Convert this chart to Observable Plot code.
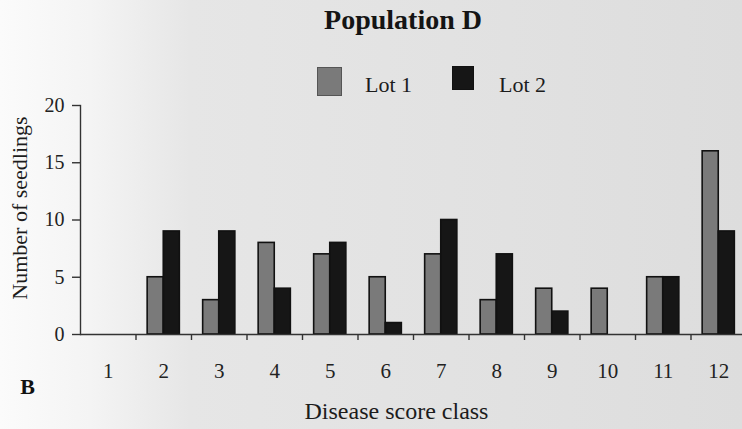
<!DOCTYPE html>
<html>
<head>
<meta charset="utf-8">
<script src="https://cdn.jsdelivr.net/npm/d3@7"></script>
<script src="https://cdn.jsdelivr.net/npm/@observablehq/plot@0.6"></script>
<style>
  html, body { margin: 0; padding: 0; }
  body {
    width: 742px; height: 429px; overflow: hidden; position: relative;
    background: linear-gradient(to right, #fbfbfb 0px, #f4f4f4 90px, #e6e6e6 190px, #e2e2e2 450px, #dddddd 742px);
    font-family: "Liberation Serif", "Times New Roman", serif; color: #1c1c1c;
  }
  #head { position: relative; height: 95px; }
  .title { position: absolute; left: 403px; top: 6px; transform: translateX(-50%);
    font-size: 28px; font-weight: bold; line-height: 1; white-space: nowrap; color: #141414; }
  .sw { position: absolute; box-sizing: border-box; }
  .lab { position: absolute; font-size: 22px; line-height: 1; white-space: nowrap; color: #1c1c1c; }
  #chart svg { display: block; }
</style>
</head>
<body>
<div id="head"></div>
<div id="chart"></div>
<script>
// ---- data ----
const classes = [1, 2, 3, 4, 5, 6, 7, 8, 9, 10, 11, 12];
const lot1 = [0, 5, 3, 8, 7, 5, 7, 3, 4, 4, 5, 16];
const lot2 = [0, 9, 9, 4, 8, 1, 10, 7, 2, 0, 5, 9];
const lots = ["Lot 1", "Lot 2"];
const yTicks = [0, 5, 10, 15, 20];
const titleText = "Population D";
const xTitle = "Disease score class";
const yTitle = "Number of seedlings";
const panelLetter = "B";

// ---- styles ----
const lotColors = ["#7a7a7a", "#161616"];
const barW = 0.29;

// header: title + legend
const head = document.getElementById("head");
const t = document.createElement("div");
t.className = "title"; t.textContent = titleText; head.appendChild(t);
const legendSpec = [
  {sw: {left: 317, top: 67, w: 25, h: 29, border: "#555"}, lab: {left: 365, top: 74}},
  {sw: {left: 452, top: 66, w: 22, h: 24, border: "#111"}, lab: {left: 499, top: 74}}
];
lots.forEach((name, i) => {
  const s = legendSpec[i];
  const sw = document.createElement("div");
  sw.className = "sw";
  Object.assign(sw.style, {left: s.sw.left + "px", top: s.sw.top + "px", width: s.sw.w + "px", height: s.sw.h + "px",
    background: lotColors[i], border: "1.5px solid " + s.sw.border});
  head.appendChild(sw);
  const lb = document.createElement("div");
  lb.className = "lab"; lb.textContent = name;
  Object.assign(lb.style, {left: s.lab.left + "px", top: s.lab.top + "px"});
  head.appendChild(lb);
});

const rows = classes.flatMap((c, i) => [
  {cls: c, lot: lots[0], n: lot1[i]},
  {cls: c, lot: lots[1], n: lot2[i]}
]).filter(d => d.n > 0);

const boundaries = classes.slice(0, -1).map(c => c + 0.5);

const chart = Plot.plot({
  width: 742,
  height: 334,
  marginLeft: 80,
  marginRight: 0,
  marginTop: 10,
  marginBottom: 95,
  style: {fontFamily: "Liberation Serif, Times New Roman, serif", color: "#222", background: "transparent", overflow: "visible"},
  x: {type: "linear", domain: [classes[0] - 0.5, classes[classes.length - 1] + 0.5], range: [80, 746]},
  y: {domain: [yTicks[0], yTicks[yTicks.length - 1]]},
  color: {domain: lots, range: lotColors},
  marks: [
    Plot.rectY(rows, {
      x1: d => d.lot === lots[0] ? d.cls - barW : d.cls,
      x2: d => d.lot === lots[0] ? d.cls : d.cls + barW,
      y: "n",
      fill: "lot",
      stroke: "#111",
      strokeWidth: 1.6
    }),
    Plot.frame({anchor: "left", stroke: "#333", strokeWidth: 1.4}),
    Plot.ruleY([0], {stroke: "#333", strokeWidth: 1.4}),
    Plot.axisY({ticks: yTicks, tickSize: 8, tickPadding: 8, fontSize: 20, label: null, stroke: "#333", strokeWidth: 1.4}),
    Plot.axisX({ticks: boundaries, tickSize: 6, tickFormat: () => "", label: null, stroke: "#333", strokeWidth: 1.4}),
    Plot.axisX({ticks: classes, tickSize: 0, tickPadding: 29, fontSize: 21, label: null}),
    Plot.text([yTitle], {frameAnchor: "left", textAnchor: "middle", lineAnchor: "middle", rotate: -90, dx: -61, dy: -12, fontSize: 22, fill: "#1c1c1c"}),
    Plot.text([xTitle], {frameAnchor: "bottom", textAnchor: "middle", lineAnchor: "middle", dx: -15, dy: 77, fontSize: 24, fill: "#1c1c1c"}),
    Plot.text([panelLetter], {frameAnchor: "bottom-left", textAnchor: "middle", lineAnchor: "middle", dx: -53, dy: 52, fontSize: 22, fontWeight: "bold", fill: "#111"})
  ]
});
document.getElementById("chart").appendChild(chart);
</script>
</body>
</html>
